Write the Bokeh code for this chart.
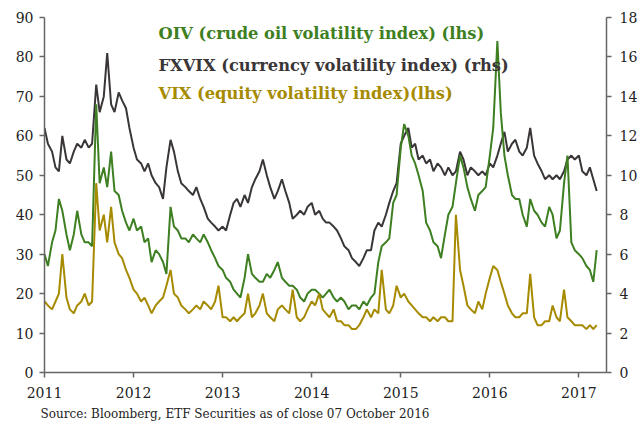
import pandas as pd
from bokeh.plotting import figure
from bokeh.models import Range1d, LinearAxis, FixedTicker, Label, Title
from bokeh.embed import file_html
from bokeh.resources import INLINE

# Semi-monthly readings (1st and 15th of each month), Jan 2011 - Mar 2017
oiv = [30, 27, 33, 36, 44, 41, 35, 31, 35, 41, 35, 33, 33, 32, 68, 48, 52, 47, 56, 46,
       45, 41, 38, 36, 39, 36, 37, 33, 34, 28, 31, 30, 28, 25, 42, 37, 36, 34, 34, 33,
       35, 34, 33, 35, 33, 31, 29, 27, 26, 24, 23, 21, 20, 19, 24, 30, 25, 24, 23, 23,
       25, 24, 26, 28, 24, 23, 22, 22, 21, 19, 18, 20, 21, 21, 20, 19, 20, 21, 19, 18,
       19, 18, 16, 17, 17, 16, 18, 17, 19, 20, 28, 32, 33, 34, 43, 45, 57, 63, 60, 55,
       53, 50, 46, 38, 36, 33, 32, 29, 35, 40, 42, 48, 55, 52, 47, 44, 41, 45, 46, 47,
       55, 62, 84, 66, 55, 50, 45, 44, 44, 40, 37, 44, 41, 40, 38, 37, 42, 40, 34, 36,
       48, 55, 33, 31, 30, 29, 27, 26, 23, 31]
fxvix = [12.4, 11.6, 11.2, 10.4, 10.2, 12.0, 10.8, 10.6, 11.2, 11.6, 11.4, 11.8, 11.4, 11.6, 14.6,
         13.2, 14.0, 16.2, 13.6, 13.2, 14.2, 13.8, 13.4, 12.4, 11.4, 10.8, 10.6, 10.2, 10.6, 10.0,
         9.6, 9.4, 8.8, 10.4, 11.8, 11.2, 10.2, 9.6, 9.4, 9.2, 9.0, 9.4, 8.8, 8.4, 7.8,
         7.6, 7.4, 7.2, 7.4, 7.2, 8.0, 8.6, 8.8, 8.4, 9.0, 8.6, 9.4, 9.8, 10.2, 10.8,
         10.0, 9.4, 8.8, 9.2, 9.8, 9.2, 8.6, 7.8, 8.0, 8.2, 8.0, 8.4, 8.6, 8.0, 8.2,
         7.8, 7.6, 7.6, 7.4, 7.2, 6.8, 6.4, 6.2, 5.8, 5.6, 5.4, 5.8, 6.2, 6.2, 7.2,
         7.6, 7.4, 8.0, 8.6, 9.2, 9.6, 11.6, 12.0, 12.4, 11.4, 11.6, 10.8, 11.0, 10.6, 10.8,
         10.2, 10.6, 10.4, 10.0, 10.4, 10.0, 10.2, 11.2, 10.8, 10.0, 10.4, 10.2, 10.0, 10.2, 10.0,
         10.6, 10.4, 11.0, 11.6, 12.2, 11.2, 11.6, 11.8, 11.2, 11.0, 11.4, 12.4, 11.0, 10.6, 10.2,
         9.8, 10.0, 9.8, 10.0, 9.8, 10.2, 10.8, 11.0, 10.8, 11.0, 10.2, 10.0, 10.4, 9.8, 9.2]
vix = [18, 17, 16, 18, 20, 30, 19, 16, 15, 17, 18, 20, 17, 18, 48, 36, 40, 33, 42, 33,
       30, 29, 26, 24, 21, 20, 18, 19, 17, 15, 17, 18, 19, 22, 26, 20, 19, 17, 16, 15,
       16, 17, 16, 18, 17, 16, 18, 22, 14, 14, 13, 14, 13, 14, 15, 20, 14, 15, 17, 20,
       15, 14, 13, 16, 17, 16, 15, 21, 14, 13, 14, 16, 18, 17, 20, 16, 15, 14, 16, 13,
       13, 12, 12, 11, 11, 12, 14, 16, 14, 16, 15, 26, 16, 15, 17, 22, 19, 20, 18, 17,
       16, 15, 14, 14, 13, 14, 13, 14, 14, 13, 13, 40, 26, 22, 17, 16, 15, 18, 16, 20,
       24, 27, 26, 23, 20, 17, 15, 14, 14, 15, 15, 25, 14, 12, 12, 13, 13, 17, 14, 13,
       21, 14, 13, 12, 12, 12, 11, 12, 11, 12]
year_ticks = [2011, 2012, 2013, 2014, 2015, 2016, 2017]
legend_texts = ["OIV (crude oil volatility index) (lhs)",
                "FXVIX (currency volatility index) (rhs)",
                "VIX (equity volatility index)(lhs)"]
source_text = "Source: Bloomberg, ETF Securities as of close 07 October 2016"

dates = pd.date_range("2011-01-01", periods=len(oiv), freq="SMS")
t = [d.year + (d.dayofyear - 1) / (366 if d.is_leap_year else 365) for d in dates]

GREEN = "#3d7f21"
GRAY = "#3a3637"
GOLD = "#a68a00"
AXIS = "#666666"
SERIF = "DejaVu Serif"

p = figure(width=643, height=424, output_backend="svg", toolbar_location=None,
           x_range=Range1d(2011, 2017.31), y_range=Range1d(0, 90),
           min_border_left=44, min_border_right=37, min_border_top=17, min_border_bottom=52)
p.extra_y_ranges = {"rhs": Range1d(0, 18)}
p.outline_line_color = None
p.xgrid.visible = False
p.ygrid.visible = False
p.background_fill_color = "white"

def style(ax, standoff):
    ax.axis_line_color = AXIS
    ax.axis_line_width = 1.5
    ax.major_tick_line_color = AXIS
    ax.major_tick_line_width = 1.5
    ax.major_tick_out = 5
    ax.major_tick_in = 0
    ax.minor_tick_line_color = None
    ax.major_label_text_font = SERIF
    ax.major_label_text_font_size = "14px"
    ax.major_label_text_color = "#222222"
    ax.major_label_standoff = standoff

p.xaxis.ticker = FixedTicker(ticks=year_ticks)
style(p.xaxis[0], 9)
p.yaxis.ticker = FixedTicker(ticks=list(range(0, 91, 10)))
style(p.yaxis[0], 6)

rax = LinearAxis(y_range_name="rhs", ticker=FixedTicker(ticks=list(range(0, 19, 2))))
style(rax, 8)
p.add_layout(rax, "right")

p.line(t, fxvix, y_range_name="rhs", line_color=GRAY, line_width=2)
p.line(t, oiv, line_color=GREEN, line_width=2)
p.line(t, vix, line_color=GOLD, line_width=2)

for txt, col, yv in zip(legend_texts, [GREEN, GRAY, GOLD], [86, 77.8, 70.7]):
    p.add_layout(Label(x=2012.28, y=yv, text=txt, text_color=col,
                       text_font=SERIF, text_font_style="bold",
                       text_font_size="16.3px", text_baseline="middle"))

p.add_layout(Title(text=source_text, align="left", text_color="#222222",
                   text_font=SERIF, text_font_style="normal",
                   text_font_size="12px", standoff=8, offset=-4), "below")

open("out.html", "w").write(file_html(p, INLINE))
